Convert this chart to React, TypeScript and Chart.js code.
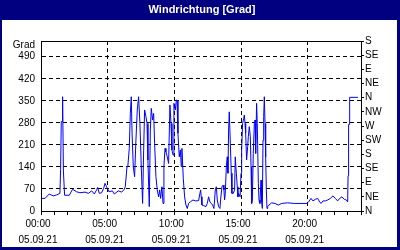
import React, { useEffect, useRef } from 'react';
import { Chart, registerables } from 'chart.js';

Chart.register(...registerables);

const TITLE = 'Windrichtung [Grad]';
const Y_UNIT = 'Grad';
const FONT = '"Liberation Sans", Arial, sans-serif';

const hours = [
  0.0, 0.3, 0.62, 0.92, 1.17, 1.42, 1.47, 1.52, 1.58, 1.62, 1.68, 1.77, 2.12, 2.37, 2.67, 2.92,
  3.3, 3.55, 3.8, 4.0, 4.17, 4.25, 4.37, 4.55, 4.7, 4.8, 4.92, 5.1, 5.35, 5.5, 5.8, 6.05,
  6.25, 6.32, 6.45, 6.52, 6.62, 6.7, 6.77, 6.83, 6.92, 7.02, 7.12, 7.22, 7.32, 7.42, 7.52, 7.62,
  7.7, 7.77, 7.87, 7.95, 8.02, 8.12, 8.2, 8.27, 8.37, 8.45, 8.52, 8.62, 8.72, 8.82, 8.9, 8.97,
  9.07, 9.15, 9.22, 9.3, 9.37, 9.47, 9.57, 9.67, 9.75, 9.82, 9.9, 9.97, 10.07, 10.15, 10.2, 10.27,
  10.37, 10.45, 10.52, 10.57, 10.67, 10.77, 10.87, 10.97, 11.07, 11.2, 11.4, 11.6, 11.82, 11.97, 12.02, 12.07,
  12.37, 12.47, 12.57, 12.67, 12.77, 12.87, 12.97, 13.02, 13.07, 13.15, 13.22, 13.32, 13.42, 13.47, 13.57, 13.65,
  13.72, 13.77, 13.82, 13.9, 13.97, 14.02, 14.07, 14.12, 14.2, 14.27, 14.32, 14.42, 14.52, 14.57, 14.65, 14.72,
  14.77, 14.82, 14.93, 15.0, 15.05, 15.12, 15.2, 15.25, 15.3, 15.35, 15.42, 15.5, 15.55, 15.62, 15.7, 15.75,
  15.8, 15.85, 15.92, 16.0, 16.05, 16.1, 16.17, 16.22, 16.3, 16.35, 16.42, 16.5, 16.55, 16.6, 16.65, 16.7,
  16.75, 16.8, 16.85, 16.9, 16.95, 17.0, 17.1, 17.3, 17.55, 17.8, 18.05, 18.5, 19.0, 19.5, 19.95, 20.07,
  20.25, 20.4, 20.57, 20.75, 20.9, 21.0, 21.15, 21.33, 21.5, 21.7, 21.9, 22.07, 22.25, 22.4, 22.57, 22.75,
  22.9, 23.0, 23.03, 23.07, 23.12, 23.15, 23.77,
];

const degrees = [
  40, 40, 54, 48, 51, 56, 132, 284, 284, 363, 127, 50, 50, 69, 61, 58,
  60, 56, 64, 54, 67, 75, 56, 58, 72, 88, 77, 61, 64, 54, 64, 60,
  69, 77, 141, 146, 199, 310, 363, 247, 141, 109, 225, 321, 363, 278, 141, 24,
  194, 321, 300, 278, 162, 14, 257, 326, 289, 310, 215, 109, 67, 45, 67, 40,
  77, 24, 141, 199, 188, 172, 151, 337, 278, 194, 178, 342, 321, 352, 352, 247,
  172, 194, 141, 199, 104, 45, 19, 8, 24, 29, 35, 32, 33, 67, 45, 19,
  14, 24, 45, 29, 24, 19, 8, 35, 67, 77, 35, 14, 8, 35, 77, 82,
  67, 35, 56, 141, 172, 120, 257, 315, 215, 120, 56, 56, 67, 172, 120, 77,
  45, 56, 45, 120, 194, 278, 294, 305, 278, 247, 162, 204, 236, 268, 236, 141,
  24, 35, 183, 278, 289, 183, 342, 278, 88, 35, 24, 98, 29, 8, 225, 300,
  363, 278, 172, 67, 8, 14, 19, 26, 24, 19, 24, 26, 24, 24, 24, 29,
  40, 32, 37, 40, 29, 24, 32, 32, 35, 40, 48, 40, 32, 40, 45, 37,
  35, 29, 112, 275, 275, 361, 361,
];

const leftTicks = [0, 70, 140, 210, 280, 350, 420, 490];
const rightTickValues = [0, 45, 90, 135, 180, 225, 270, 315, 360, 405, 450, 495, 540];
const rightTickLabels = ['N', 'NE', 'E', 'SE', 'S', 'SW', 'W', 'NW', 'N', 'NE', 'E', 'SE', 'S'];
const hourTicks = [0, 1, 2, 3, 4, 5, 6, 7, 8, 9, 10, 11, 12, 13, 14, 15, 16, 17, 18, 19, 20, 21, 22, 23, 24];
const gridHours = [5, 10, 15, 20];
const labelHours = [0, 5, 10, 15, 20];
const timeLabels = ['00:00', '05:00', '10:00', '15:00', '20:00'];
const dateLabel = '05.09.21';

const framePlugin = {
  id: 'frame',
  beforeDraw(chart: any) {
    const { ctx, width, height } = chart;
    ctx.save();
    ctx.fillStyle = '#000080';
    ctx.fillRect(0, 0, width, height);
    ctx.fillStyle = '#ffffff';
    ctx.fillRect(2, 20, width - 5, height - 23);
    ctx.restore();
  },
  afterDraw(chart: any) {
    const { ctx, chartArea } = chart;
    const { left, top, right } = chartArea;
    ctx.save();
    ctx.strokeStyle = '#000000';
    ctx.lineWidth = 1;
    ctx.beginPath();
    ctx.moveTo(left, Math.round(top) + 0.5);
    ctx.lineTo(right + 1, Math.round(top) + 0.5);
    ctx.stroke();
    ctx.fillStyle = '#ffffff';
    ctx.font = 'bold 11px ' + FONT;
    ctx.textAlign = 'center';
    ctx.textBaseline = 'middle';
    ctx.fillText(TITLE, 202, 10);
    ctx.fillStyle = '#000000';
    ctx.font = '10px ' + FONT;
    ctx.textAlign = 'right';
    ctx.fillText(Y_UNIT, left - 6, top + 4);
    ctx.restore();
  },
};

export default function App() {
  const ref = useRef<HTMLCanvasElement | null>(null);

  useEffect(() => {
    document.body.style.margin = '0';
    const canvas = ref.current;
    if (!canvas) return;
    const points = hours.map((h, i) => ({ x: h, y: degrees[i] }));
    const font = { family: FONT, size: 10 };
    const chart = new Chart(canvas, {
      type: 'line',
      data: {
        datasets: [
          {
            data: points,
            borderColor: '#0000ff',
            borderWidth: 1,
            pointRadius: 0,
            tension: 0,
            fill: false,
          },
        ],
      },
      options: {
        animation: false,
        responsive: false,
        devicePixelRatio: 1,
        layout: { padding: { top: 41, left: 0, right: 0, bottom: 0 } },
        plugins: {
          legend: { display: false },
          tooltip: { enabled: false },
          title: { display: false },
        },
        scales: {
          x: {
            type: 'linear',
            min: 0,
            max: 24,
            afterBuildTicks: (s: any) => {
              s.ticks = hourTicks.map((v) => ({ value: v }));
            },
            afterFit: (s: any) => {
              s.height = 39;
            },
            grid: {
              color: (c: any) => (c.tick && gridHours.includes(c.tick.value) ? '#000000' : 'rgba(0,0,0,0)'),
              tickColor: '#000000',
              tickLength: 4,
              lineWidth: 1,
            },
            border: { display: true, color: '#000000', dash: [4, 3] },
            ticks: {
              autoSkip: false,
              maxRotation: 0,
              padding: 1,
              labelOffset: -3,
              color: '#000000',
              font: { family: FONT, size: 10, lineHeight: 1.6 },
              callback: (v: any) => {
                const i = labelHours.indexOf(Number(v));
                return i >= 0 ? [timeLabels[i], dateLabel] : '';
              },
            },
          },
          y: {
            position: 'left',
            min: 0,
            max: 540,
            afterBuildTicks: (s: any) => {
              s.ticks = leftTicks.map((v) => ({ value: v }));
            },
            afterFit: (s: any) => {
              s.width = 41;
            },
            grid: {
              color: (c: any) => (c.tick && c.tick.value > 0 ? '#000000' : 'rgba(0,0,0,0)'),
              drawTicks: false,
              lineWidth: 1,
            },
            border: { display: true, color: '#000000', dash: [4, 3] },
            ticks: { autoSkip: false, padding: 6, color: '#000000', font },
          },
          y2: {
            position: 'right',
            min: 0,
            max: 540,
            afterBuildTicks: (s: any) => {
              s.ticks = rightTickValues.map((v) => ({ value: v }));
            },
            afterFit: (s: any) => {
              s.width = 39;
            },
            grid: { drawOnChartArea: false, tickLength: 3, tickColor: '#000000', color: '#000000' },
            border: { display: true, color: '#000000' },
            ticks: {
              autoSkip: false,
              padding: 1,
              color: '#000000',
              font,
              callback: (v: any) => {
                const i = rightTickValues.indexOf(Number(v));
                return i >= 0 ? rightTickLabels[i] : '';
              },
            },
          },
        },
      } as any,
      plugins: [framePlugin],
    });
    return () => chart.destroy();
  }, []);

  return (
    <div style={{ width: 400, height: 250 }}>
      <canvas ref={ref} width={400} height={250} style={{ display: 'block', width: 400, height: 250 }} />
    </div>
  );
}
